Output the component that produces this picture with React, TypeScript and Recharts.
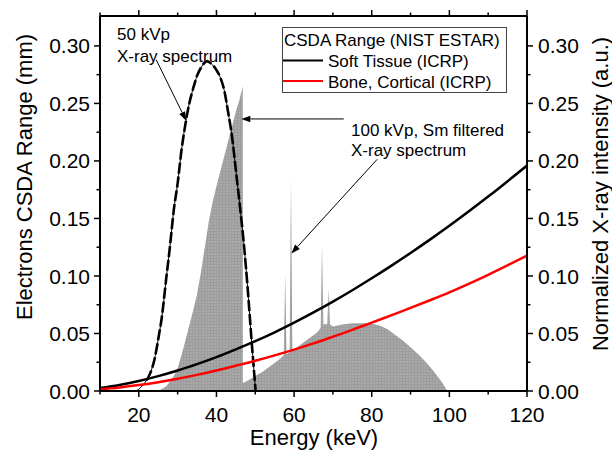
import React from 'react';
import { ComposedChart, Line, Area, XAxis, YAxis, Legend, ReferenceLine } from 'recharts';

// ---- data ----
const csdaEnergy = [10, 15, 20, 25, 30, 35, 40, 45, 50, 55, 60, 65, 70, 75, 80, 85, 90, 95, 100, 110, 120];
const softTissue = [0.0025, 0.0052, 0.0087, 0.0129, 0.0178, 0.0234, 0.0295, 0.0362, 0.0433, 0.051, 0.0594, 0.0683, 0.0777, 0.0876, 0.098, 0.1088, 0.12, 0.1316, 0.1436, 0.169, 0.196];
const boneCortical = [0.0015, 0.0031, 0.0052, 0.0077, 0.0107, 0.014, 0.0178, 0.022, 0.0263, 0.031, 0.036, 0.0414, 0.0472, 0.0531, 0.0594, 0.0658, 0.0722, 0.0789, 0.0858, 0.101, 0.1176];

const spec50Energy = [19, 20, 21, 22, 23, 24, 25, 26, 27, 28, 29, 30, 31, 32, 33, 34, 35, 36, 37, 37.6, 38, 39, 40, 41, 42, 43, 44, 45, 46, 47, 48, 49, 50, 50.1];
const spec50Value = [0, 0.0015, 0.005, 0.0093, 0.016, 0.027, 0.045, 0.066, 0.096, 0.125, 0.157, 0.1805, 0.2095, 0.232, 0.25, 0.263, 0.274, 0.281, 0.2855, 0.2868, 0.2862, 0.2835, 0.279, 0.2725, 0.2615, 0.2425, 0.2215, 0.192, 0.162, 0.13, 0.091, 0.046, 0.004, 0];

const spec100Energy = [25, 27, 28, 29, 30, 31, 32, 33, 34, 35, 36, 37, 38, 39, 40, 41, 42, 43, 44, 45, 46, 46.8, 46.8, 48, 50, 52, 54, 56, 57.35, 57.7, 58.05, 58.85, 59.2, 59.55, 62, 64, 66, 66.85, 67.2, 67.55, 68.55, 68.9, 69.25, 70, 72, 75, 78, 80, 82, 84, 86, 88, 90, 92, 94, 96, 98, 99.5];
const spec100Value = [0, 0.004, 0.008, 0.013, 0.02, 0.031, 0.044, 0.057, 0.07, 0.084, 0.103, 0.125, 0.147, 0.164, 0.178, 0.191, 0.204, 0.217, 0.23, 0.243, 0.254, 0.265, 0.007, 0.009, 0.013, 0.017, 0.022, 0.027, 0.031, 0.102, 0.032, 0.034, 0.185, 0.035, 0.041, 0.046, 0.051, 0.055, 0.127, 0.058, 0.058, 0.089, 0.058, 0.056, 0.0575, 0.0588, 0.059, 0.0585, 0.057, 0.054, 0.049, 0.044, 0.038, 0.032, 0.025, 0.017, 0.008, 0];

const xTicks = [10, 20, 30, 40, 50, 60, 70, 80, 90, 100, 110, 120];
const yTicks = [0, 0.025, 0.05, 0.075, 0.1, 0.125, 0.15, 0.175, 0.2, 0.225, 0.25, 0.275, 0.3];

const legendTitle = 'CSDA Range (NIST ESTAR)';
const legendItems = [
  { name: 'Soft Tissue (ICRP)', color: '#000000' },
  { name: 'Bone, Cortical (ICRP)', color: '#ff0000' },
];

const xTitle = 'Energy (keV)';
const yLeftTitle = 'Electrons CSDA Range (mm)';
const yRightTitle = 'Normalized X-ray intensity (a.u.)';

const note50 = ['50 kVp', 'X-ray spectrum'];
const note100 = ['100 kVp, Sm filtered', 'X-ray spectrum'];

// arrows in data coordinates [from, to]
const arrows = [
  [{ x: 24.5, y: 0.2878 }, { x: 32.2, y: 0.235 }],
  [{ x: 72.8, y: 0.2365 }, { x: 46.4, y: 0.2365 }],
  [{ x: 81.4, y: 0.2014 }, { x: 59.3, y: 0.1196 }],
];

// ---- build tables ----
const softData = csdaEnergy.map((x, i) => ({ x, y: softTissue[i] }));
const boneData = csdaEnergy.map((x, i) => ({ x, y: boneCortical[i] }));
const spec50Data = spec50Energy.map((x, i) => ({ x, y: spec50Value[i] }));
const spec50Dashed = spec50Data.filter((d) => d.x >= 22);
const spec100Data = spec100Energy.map((x, i) => ({ x, y: spec100Value[i] }));

const FONT = 'Liberation Sans, Arial, Helvetica, sans-serif';

const isMajorX = (v: number) => Math.round(v) % 20 === 0;
const isMajorY = (v: number) => Math.round(v * 1000) % 50 === 0;

const BottomTick = (props: any) => {
  const { x, y, payload } = props;
  const v = payload.value;
  const major = isMajorX(v);
  return (
    <g>
      <line x1={x} x2={x} y1={y} y2={y + (major ? 6 : 3.5)} stroke="#000" strokeWidth={1.5} />
      {major && (
        <text x={x} y={y + 31} textAnchor="middle" fontSize={21} fontFamily={FONT} fill="#000">
          {v}
        </text>
      )}
    </g>
  );
};

const TopTick = (props: any) => {
  const { x, y, payload } = props;
  const major = isMajorX(payload.value);
  return <line x1={x} x2={x} y1={y} y2={y - (major ? 6 : 3.5)} stroke="#000" strokeWidth={1.5} />;
};

const LeftTick = (props: any) => {
  const { x, y, payload } = props;
  const v = payload.value;
  const major = isMajorY(v);
  return (
    <g>
      <line x1={x} x2={x - (major ? 6 : 3.5)} y1={y} y2={y} stroke="#000" strokeWidth={1.5} />
      {major && (
        <text x={x - 10} y={y} dy="0.36em" textAnchor="end" fontSize={21} fontFamily={FONT} fill="#000">
          {v.toFixed(2)}
        </text>
      )}
    </g>
  );
};

const RightTick = (props: any) => {
  const { x, y, payload } = props;
  const v = payload.value;
  const major = isMajorY(v);
  return (
    <g>
      <line x1={x} x2={x + (major ? 6 : 3.5)} y1={y} y2={y} stroke="#000" strokeWidth={1.5} />
      {major && (
        <text x={x + 11} y={y} dy="0.36em" textAnchor="start" fontSize={21} fontFamily={FONT} fill="#000">
          {v.toFixed(2)}
        </text>
      )}
    </g>
  );
};

const ArrowShape = (props: any) => {
  const { x1, y1, x2, y2 } = props;
  if ([x1, y1, x2, y2].some((v) => typeof v !== 'number' || isNaN(v))) return null;
  const ang = Math.atan2(y2 - y1, x2 - x1);
  const len = 9;
  const w = 3.2;
  const bx = x2 - len * Math.cos(ang);
  const by = y2 - len * Math.sin(ang);
  const px = -Math.sin(ang) * w;
  const py = Math.cos(ang) * w;
  return (
    <g>
      <line x1={x1} y1={y1} x2={bx} y2={by} stroke="#000" strokeWidth={1} />
      <polygon points={`${x2},${y2} ${bx + px},${by + py} ${bx - px},${by - py}`} fill="#000" />
    </g>
  );
};

const LegendBox = () => (
  <svg width={225} height={66} style={{ display: 'block' }}>
    <rect x={0.5} y={0.5} width={224} height={65} fill="#fff" stroke="#444" strokeWidth={1} />
    <text x={2} y={18.5} fontSize={17} fontFamily={FONT} fill="#000">
      {legendTitle}
    </text>
    {legendItems.map((it, i) => (
      <g key={it.name}>
        <line x1={1} x2={41} y1={33.5 + i * 20.5} y2={33.5 + i * 20.5} stroke={it.color} strokeWidth={2} />
        <text x={46} y={40 + i * 20.5} fontSize={17} fontFamily={FONT} fill="#000">
          {it.name}
        </text>
      </g>
    ))}
  </svg>
);

export default function App() {
  return (
    <div style={{ position: 'absolute', left: 0, top: 0, width: 612, height: 450, background: '#fff' }}>
      <ComposedChart width={612} height={450} margin={{ top: 6, right: 0, bottom: 0, left: 0 }}>
        <defs>
          <pattern id="hatch" width="3" height="3" patternUnits="userSpaceOnUse">
            <rect width="3" height="3" fill="#a9a9a9" />
            <rect width="3" height="1" fill="#9c9c9c" />
            <rect width="1" height="3" fill="#9c9c9c" />
          </pattern>
        </defs>
        <XAxis
          xAxisId="b"
          dataKey="x"
          type="number"
          domain={[10, 120]}
          allowDataOverflow
          ticks={xTicks}
          interval={0}
          height={59}
          tickSize={0}
          tickMargin={0}
          tickLine={false}
          tick={<BottomTick />}
          axisLine={{ stroke: '#000', strokeWidth: 2 }}
        />
        <XAxis
          xAxisId="t"
          orientation="top"
          dataKey="x"
          type="number"
          domain={[10, 120]}
          allowDataOverflow
          ticks={xTicks}
          interval={0}
          height={10}
          tickSize={0}
          tickMargin={0}
          tickLine={false}
          tick={<TopTick />}
          axisLine={{ stroke: '#000', strokeWidth: 2 }}
        />
        <YAxis
          yAxisId="l"
          type="number"
          domain={[0, 0.326]}
          allowDataOverflow
          ticks={yTicks}
          interval={0}
          width={100}
          tickSize={0}
          tickMargin={0}
          tickLine={false}
          tick={<LeftTick />}
          axisLine={{ stroke: '#000', strokeWidth: 2 }}
        />
        <YAxis
          yAxisId="r"
          orientation="right"
          type="number"
          domain={[0, 0.326]}
          allowDataOverflow
          ticks={yTicks}
          interval={0}
          width={85}
          tickSize={0}
          tickMargin={0}
          tickLine={false}
          tick={<RightTick />}
          axisLine={{ stroke: '#000', strokeWidth: 2 }}
        />
        <Area
          xAxisId="b"
          yAxisId="l"
          data={spec100Data}
          dataKey="y"
          type="linear"
          fill="url(#hatch)"
          fillOpacity={1}
          stroke="none"
          isAnimationActive={false}
          legendType="none"
        />
        <Line
          xAxisId="b"
          yAxisId="l"
          data={spec50Data}
          dataKey="y"
          type="monotone"
          stroke="#000"
          strokeWidth={1}
          dot={false}
          isAnimationActive={false}
          legendType="none"
        />
        <Line
          xAxisId="b"
          yAxisId="l"
          data={spec50Dashed}
          dataKey="y"
          type="monotone"
          stroke="#000"
          strokeWidth={2.6}
          strokeDasharray="11 3"
          dot={false}
          isAnimationActive={false}
          legendType="none"
        />
        <Line
          xAxisId="b"
          yAxisId="l"
          data={softData}
          dataKey="y"
          name={legendItems[0].name}
          type="monotone"
          stroke={legendItems[0].color}
          strokeWidth={2.5}
          dot={false}
          isAnimationActive={false}
        />
        <Line
          xAxisId="b"
          yAxisId="l"
          data={boneData}
          dataKey="y"
          name={legendItems[1].name}
          type="monotone"
          stroke={legendItems[1].color}
          strokeWidth={2.5}
          dot={false}
          isAnimationActive={false}
        />
        {arrows.map((seg, i) => (
          <ReferenceLine
            key={i}
            xAxisId="b"
            yAxisId="l"
            segment={seg}
            ifOverflow="visible"
            shape={<ArrowShape />}
          />
        ))}
        <Legend
          layout="vertical"
          align="center"
          verticalAlign="middle"
          content={<LegendBox />}
          wrapperStyle={{ left: 282, top: 27, width: 225, height: 66 }}
        />
      </ComposedChart>
      <svg
        width={612}
        height={450}
        style={{ position: 'absolute', left: 0, top: 0, pointerEvents: 'none' }}
      >
        <g fontFamily={FONT} fill="#000">
          <text x={117} y={40} fontSize={17}>{note50[0]}</text>
          <text x={117} y={62} fontSize={17}>{note50[1]}</text>
          <text x={351} y={135.5} fontSize={17}>{note100[0]}</text>
          <text x={351} y={155.5} fontSize={17}>{note100[1]}</text>
          <text x={314} y={445} fontSize={22} textAnchor="middle">{xTitle}</text>
          <text transform="translate(32,177) rotate(-90)" fontSize={22} textAnchor="middle">{yLeftTitle}</text>
          <text transform="translate(608,194) rotate(-90)" fontSize={22} textAnchor="middle">{yRightTitle}</text>
        </g>
      </svg>
    </div>
  );
}
